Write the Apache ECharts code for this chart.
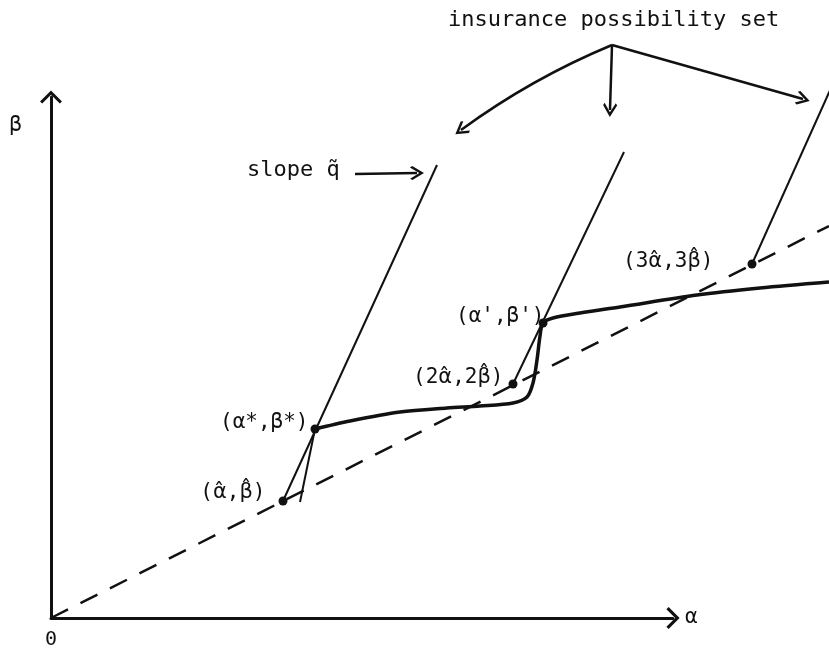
<!DOCTYPE html>
<html>
<head>
<meta charset="utf-8">
<script src="https://cdn.jsdelivr.net/npm/echarts@6/dist/echarts.min.js"></script>
<style>
  html, body { margin: 0; padding: 0; background: #fff; }
  #chart { width: 829px; height: 651px; }
</style>
</head>
<body>
<div id="chart"></div>
<script>
// Marked points: multiples of (α̂, β̂) and the two tangency points
const pointLabels = ['({h|α\u0302},{h|β\u0302})', '(α*,β*)', '(2{h|α\u0302},2{h|β\u0302})', "(α',β')", '(3{h|α\u0302},3{h|β\u0302})'];
const pointAlpha = [232, 264, 462, 492, 701];
const pointBeta = [117, 189, 234, 295, 354];

// Dashed ray through the origin and the (kα̂, kβ̂) points
const rayAlpha = [0, 778];
const rayBeta = [0, 392];

// Insurance possibility sets: lines of slope q̃ starting at each (kα̂, kβ̂)
const setStartAlpha = [232, 462, 701];
const setStartBeta = [117, 234, 354];
const setEndAlpha = [386, 573, 780];
const setEndBeta = [453, 466, 530];

// Short lower branch meeting (α*, β*)
const branchAlpha = [249, 264];
const branchBeta = [116, 189];

// Heavy curve through (α*, β*) and (α', β')
const curveAlpha = [264, 299, 349, 396, 429, 462, 476, 482, 486, 489, 492, 502, 529, 569, 646, 709, 778];
const curveBeta  = [189, 197, 206, 210, 212, 215, 221, 235, 258, 282, 295, 300, 305, 311, 323, 330, 336];

// Annotation arrows: [fromAlpha, fromBeta, toAlpha, toBeta]
const setArrows = [
  [561, 573, 410, 488],
  [561, 573, 559, 508],
  [561, 573, 752, 519]
];
const slopeArrow = [304, 444, 366, 445];

const INK = '#111';
const FONT = 'DejaVu Sans Mono';
const chevron = 'path://M50,0 L100,50 L90,60 L50,20 L10,60 L0,50 Z';

const zip = (xs, ys) => xs.map((x, i) => [x, ys[i]]);

const thin = { color: INK, width: 2 };

const labelPlacement = [
  { distance: 13, offset: [0, -8] },
  { distance: 2, offset: [0, -6] },
  { distance: 5, offset: [0, -6] },
  { distance: -6, offset: [0, -6] },
  { distance: 34, offset: [0, -2] }
];

// Plot layer shares the axes' 1:1 scale but spans the whole canvas
const onPlot = { xAxisIndex: 1, yAxisIndex: 1 };

const possibilitySeries = setStartAlpha.map((a, i) => ({
  type: 'line', ...onPlot,
  data: [[a, setStartBeta[i]], [setEndAlpha[i], setEndBeta[i]]],
  showSymbol: false,
  clip: false,
  silent: true,
  lineStyle: thin
}));

const hiddenAxis = {
  type: 'value', show: false,
  axisLine: { show: false }, axisTick: { show: false },
  axisLabel: { show: false }, splitLine: { show: false }
};

const option = {
  animation: false,
  backgroundColor: '#fff',
  title: [
    {
      text: 'insurance possibility set',
      left: 448, top: 9, padding: 0,
      textStyle: { fontFamily: FONT, fontSize: 22, fontWeight: 'normal', color: INK }
    },
    {
      text: 'slope q\u0303',
      left: 247, top: 159, padding: 0,
      textStyle: { fontFamily: FONT, fontSize: 22, fontWeight: 'normal', color: INK }
    }
  ],
  grid: [
    { left: 51, right: 156, top: 97, bottom: 33, containLabel: false, outerBoundsMode: 'none' },
    { left: 51, right: 0, top: 0, bottom: 33, containLabel: false, outerBoundsMode: 'none' }
  ],
  xAxis: [
    {
      type: 'value', gridIndex: 0, min: 0, max: 622, interval: 622,
      axisLine: { show: true, onZero: false, lineStyle: { color: INK, width: 3 }, symbol: ['none', chevron], symbolSize: [22, 14] },
      axisTick: { show: false },
      splitLine: { show: false },
      axisLabel: {
        formatter: v => (v === 0 ? '0' : ''),
        fontFamily: FONT, fontSize: 20, color: INK, margin: 12, showMaxLabel: false
      },
      name: 'α', nameLocation: 'end', nameGap: 12,
      nameTextStyle: { fontFamily: FONT, fontSize: 21, color: INK }
    },
    { ...hiddenAxis, gridIndex: 1, min: 0, max: 778 }
  ],
  yAxis: [
    {
      type: 'value', gridIndex: 0, min: 0, max: 521,
      axisLine: { show: true, onZero: false, lineStyle: { color: INK, width: 3 }, symbol: ['none', chevron], symbolSize: [22, 14] },
      axisTick: { show: false },
      splitLine: { show: false },
      axisLabel: { show: false },
      name: 'β', nameLocation: 'end', nameGap: -18,
      nameTextStyle: { fontFamily: FONT, fontSize: 21, color: INK, align: 'right', verticalAlign: 'top', padding: [0, 29, 0, 0] }
    },
    { ...hiddenAxis, gridIndex: 1, min: 0, max: 618 }
  ],
  series: [
    {
      type: 'line', ...onPlot,
      data: zip(rayAlpha, rayBeta),
      showSymbol: false, clip: false, silent: true,
      lineStyle: { color: INK, width: 2.5, type: [19, 14] }
    },
    ...possibilitySeries,
    {
      type: 'line', ...onPlot,
      data: zip(branchAlpha, branchBeta),
      showSymbol: false, clip: false, silent: true,
      lineStyle: thin
    },
    {
      type: 'line', ...onPlot,
      data: zip(curveAlpha, curveBeta),
      showSymbol: false, clip: false, silent: true,
      smooth: 0.3,
      lineStyle: { color: INK, width: 3.5 }
    },
    {
      type: 'scatter', ...onPlot,
      clip: false, silent: true,
      symbol: 'circle', symbolSize: 9,
      itemStyle: { color: INK, opacity: 1 },
      data: pointAlpha.map((a, i) => ({
        value: [a, pointBeta[i]],
        label: {
          show: true, position: 'left',
          distance: labelPlacement[i].distance,
          offset: labelPlacement[i].offset,
          formatter: pointLabels[i],
          fontFamily: FONT, fontSize: 21, color: INK,
          rich: { h: { fontFamily: 'DejaVu Sans', fontSize: 21, color: INK } }
        }
      }))
    },
    {
      type: 'lines', ...onPlot,
      coordinateSystem: 'cartesian2d',
      clip: false, silent: true,
      symbol: ['none', chevron], symbolSize: [22, 14],
      lineStyle: { color: INK, width: 2.5, opacity: 1 },
      data: [
        ...setArrows.map((s, i) => ({
          coords: [[s[0], s[1]], [s[2], s[3]]],
          lineStyle: { curveness: i === 0 ? -0.06 : 0 }
        })),
        { coords: [[slopeArrow[0], slopeArrow[1]], [slopeArrow[2], slopeArrow[3]]] }
      ]
    }
  ]
};

const chart = echarts.init(document.getElementById('chart'), null, { renderer: 'canvas' });
chart.setOption(option);
</script>
</body>
</html>
